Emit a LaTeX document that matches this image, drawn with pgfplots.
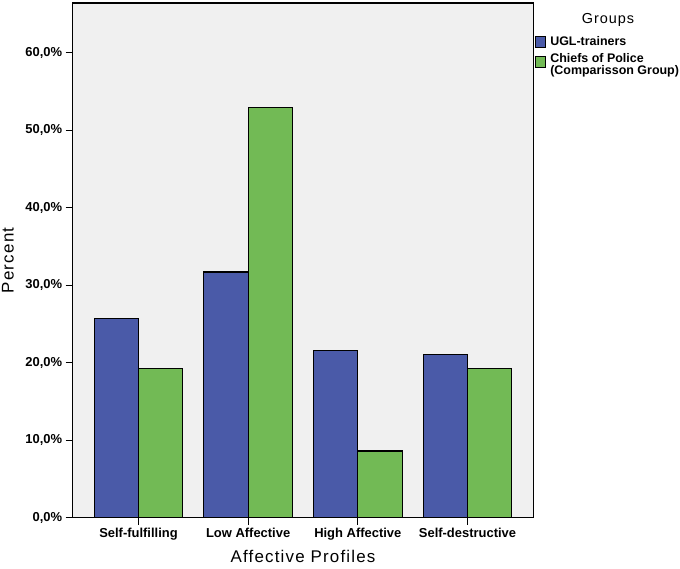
\documentclass[border=0pt]{standalone}
\usepackage{pgfplots}
\pgfplotsset{compat=1.18}
\usepackage{fontspec}
\setmainfont{Liberation Sans}
\newfontfamily\spaced[LetterSpace=7]{Liberation Sans}
\definecolor{ublue}{HTML}{4A5AA8}
\definecolor{cgreen}{HTML}{72BA55}
\definecolor{bgc}{HTML}{F0F0F0}
\begin{document}
\begin{tikzpicture}
\begin{axis}[
  at={(0,0)}, anchor=south west,
  scale only axis,
  width=460.6bp, height=514.7bp,
  xmin=-0.6, xmax=3.6,
  ymin=0, ymax=66.4,
  axis background/.style={fill=bgc},
  axis line style={line width=1.2bp},
  xtick={0,1,2,3},
  xticklabels={Self-fulfilling,Low Affective,High Affective,Self-destructive},
  ytick={0,10,20,30,40,50,60},
  yticklabels={{0,0\%},{10,0\%},{20,0\%},{30,0\%},{40,0\%},{50,0\%},{60,0\%}},
  tick align=outside,
  xtick pos=bottom, ytick pos=left,
  major tick length=7bp,
  tick style={line width=1.2bp, black},
  ticklabel style={font=\fontsize{13}{15}\selectfont\bfseries},
  xlabel={\spaced Affective Profiles},
  ylabel={\spaced Percent},
  label style={font=\fontsize{17}{20}\selectfont},
  xlabel style={at={(axis description cs:0.5,0)}, anchor=base, yshift=-45bp},
  ylabel style={at={(axis description cs:0,0.5)}, anchor=base, rotate=0, yshift=59bp},
  clip=false,
  legend cell align=left,
  legend style={draw=none, fill=none, at={(axis description cs:1,1)}, anchor=north west,
    xshift=1bp, yshift=-32bp, inner sep=0pt, row sep=4.5bp,
    font=\fontsize{12.5}{13}\selectfont\bfseries,
    nodes={inner sep=1bp}},
  legend image code/.code={\draw[#1, line width=0.8bp] (0bp,-5.5bp) rectangle (10bp,5.5bp);},
]
\addplot[ybar, bar width=44.3bp, bar shift=-22.15bp, fill=ublue, draw=black, line width=1.1bp]
  coordinates {(0,25.7) (1,31.7) (2,21.6) (3,21.0)};
\addlegendentry{\hspace{4bp}UGL-trainers}
\addplot[ybar, bar width=44.3bp, bar shift=22.15bp, fill=cgreen, draw=black, line width=1.1bp]
  coordinates {(0,19.2) (1,52.9) (2,8.6) (3,19.2)};
\addlegendentry{\begin{tabular}{@{\hspace{4bp}}l@{}}Chiefs of Police\\[-1bp](Comparisson Group)\end{tabular}}
\node[font=\fontsize{14.5}{16}\selectfont\spaced, anchor=center] at ([xshift=74.7bp, yshift=-17bp]rel axis cs:1,1) {Groups};
\end{axis}
\pgfresetboundingbox
\path[use as bounding box] (-72.7bp,-51.3bp) rectangle (607.3bp,517.7bp);
\end{tikzpicture}
\end{document}
